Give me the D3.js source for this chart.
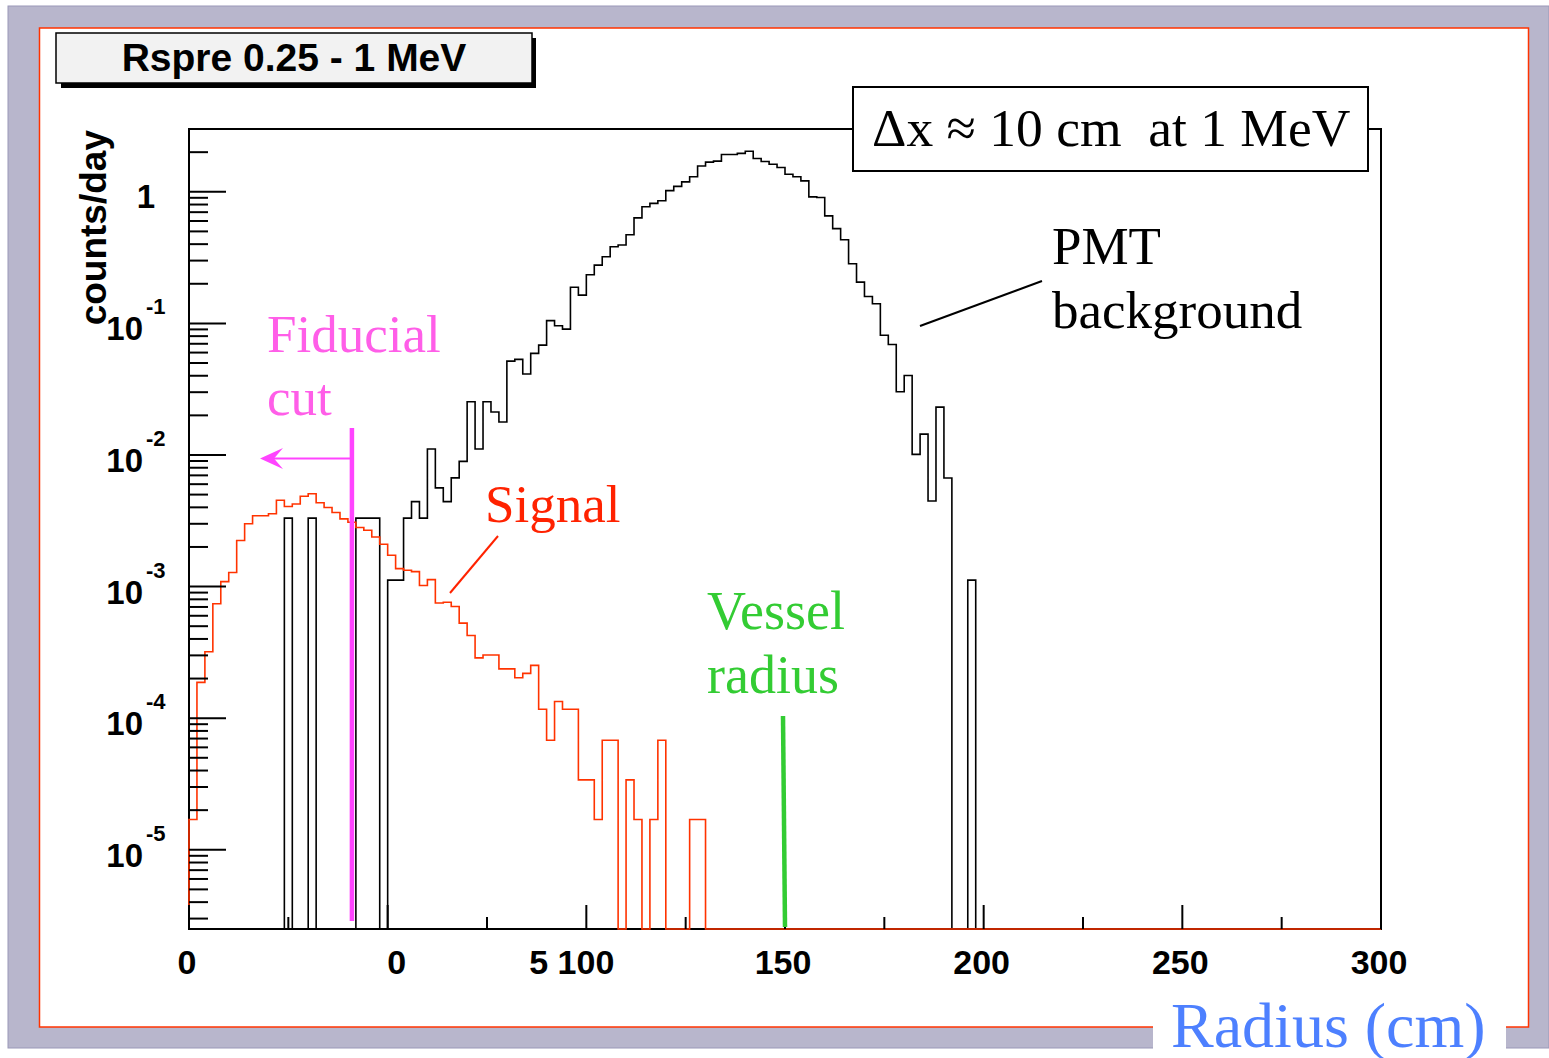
<!DOCTYPE html>
<html lang="en">
<head>
<meta charset="UTF-8">
<title>Rspre 0.25 - 1 MeV</title>
<script src="https://d3js.org/d3.v7.min.js"></script>
<style>
  body { margin: 0; background: #fff; }
  svg { display: block; }
  .serif { font-family: "Liberation Serif", "Times New Roman", serif; }
  .sans { font-family: "Liberation Sans", Arial, Helvetica, sans-serif; font-weight: bold; }
</style>
</head>
<body>
<svg id="chart" width="1549" height="1058"></svg>
<script>
// 2 cm bins starting at 0 cm, values in counts/day (0 = empty bin)
const binWidth = 2;

const signalCounts = [
  1.7e-5, 1.87e-4, 3.2e-4, 7.4e-4, 1.09e-3, 1.28e-3, 2.24e-3, 3.0e-3, 3.45e-3, 3.45e-3,
  3.58e-3, 4.53e-3, 4.06e-3, 4.24e-3, 4.86e-3, 5.07e-3, 4.34e-3, 3.99e-3, 3.66e-3, 3.27e-3,
  3.08e-3, 2.81e-3, 2.68e-3, 2.38e-3, 2.10e-3, 1.73e-3, 1.37e-3, 1.33e-3, 1.30e-3, 1.02e-3,
  1.13e-3, 7.5e-4, 7.6e-4, 7.06e-4, 5.28e-4, 4.25e-4, 2.87e-4, 3.02e-4, 3.02e-4, 2.37e-4,
  2.37e-4, 2.03e-4, 2.19e-4, 2.52e-4, 1.17e-4, 6.8e-5, 1.34e-4, 1.17e-4, 1.17e-4, 3.4e-5,
  3.4e-5, 1.7e-5, 6.8e-5, 6.8e-5, 0, 3.4e-5, 1.7e-5, 0, 1.7e-5, 6.8e-5,
  0, 0, 0, 1.7e-5, 1.7e-5
];

const pmtCounts = [
  0, 0, 0, 0, 0, 0, 0, 0, 0, 0,
  0, 0, 3.31e-3, 0, 0, 3.31e-3, 0, 0, 0, 0,
  0, 3.31e-3, 3.31e-3, 3.31e-3, 0, 1.12e-3, 1.12e-3, 3.31e-3, 4.42e-3, 3.31e-3,
  1.11e-2, 5.62e-3, 4.42e-3, 6.70e-3, 8.94e-3, 2.54e-2, 1.11e-2, 2.54e-2, 2.12e-2, 1.78e-2,
  5.17e-2, 5.33e-2, 4.12e-2, 5.92e-2, 6.84e-2, 0.105, 0.0959, 0.0905, 0.188, 0.164,
  0.234, 0.277, 0.321, 0.382, 0.394, 0.471, 0.634, 0.769, 0.816, 0.855,
  1.02, 1.10, 1.19, 1.30, 1.57, 1.68, 1.71, 1.92, 1.92, 1.96,
  2.03, 1.79, 1.70, 1.62, 1.53, 1.36, 1.30, 1.21, 0.915, 0.904,
  0.656, 0.525, 0.432, 0.284, 0.206, 0.160, 0.141, 0.0813, 0.0692, 0.0302,
  0.0402, 0.0101, 0.0144, 0.00447, 0.0231, 0.00668, 0, 0, 1.12e-3
];

const xMinorTicks = [0, 25, 50, 75, 100, 125, 150, 175, 200, 225, 250, 275, 300];
const xLabelValues = [0, 50, 100, 150, 200, 250, 300];
const xLabelText = ["0", "0", "5 100", "150", "200", "250", "300"];
const yDecades = [-6, -5, -4, -3, -2, -1, 0];

const fiducialCut = 41;   // cm
const vesselRadius = 150; // cm

const svg = d3.select("#chart");
const W = 1549, H = 1058;
const plot = { left: 189, right: 1381, top: 129, bottom: 929 };

const x = d3.scaleLinear().domain([0, 300]).range([plot.left, plot.right]);
const y = d3.scaleLog().domain([2.5e-6, 3]).range([plot.bottom, plot.top]);

// canvas / pad
svg.append("rect").attr("width", W).attr("height", H).attr("fill", "#fff");
svg.append("rect").attr("x", 8).attr("y", 6).attr("width", W - 8).attr("height", 1042)
  .attr("fill", "#b8b6cc").attr("stroke", "#9a98b8").attr("stroke-width", 1);
svg.append("rect").attr("x", 39.5).attr("y", 28).attr("width", 1489).attr("height", 999)
  .attr("fill", "#fff").attr("stroke", "#ff3300").attr("stroke-width", 1.5);

// frame
svg.append("rect").attr("x", plot.left).attr("y", plot.top)
  .attr("width", plot.right - plot.left).attr("height", plot.bottom - plot.top)
  .attr("fill", "#fff").attr("stroke", "#000").attr("stroke-width", 2);

svg.append("clipPath").attr("id", "clip").append("rect")
  .attr("x", plot.left - 1).attr("y", plot.top).attr("width", plot.right - plot.left + 2)
  .attr("height", plot.bottom - plot.top + 1);

// histogram outline, empty bins drawn on the frame bottom
const histPoints = (vals) => {
  const pts = [[0, null]];
  vals.forEach((v, i) => {
    pts.push([i * binWidth, v]);
    pts.push([(i + 1) * binWidth, v]);
  });
  pts.push([vals.length * binWidth, null]);
  pts.push([300, null]);
  return pts;
};
const histLine = d3.line()
  .x(d => x(d[0]))
  .y(d => (d[1] > 0 ? y(d[1]) : plot.bottom));

const g = svg.append("g").attr("clip-path", "url(#clip)");
g.append("path").attr("d", histLine(histPoints(pmtCounts)))
  .attr("fill", "none").attr("stroke", "#000").attr("stroke-width", 1.6);
g.append("path").attr("d", histLine(histPoints(signalCounts)))
  .attr("fill", "none").attr("stroke", "#ff3300").attr("stroke-width", 1.6);

// y ticks
const yTicks = [];
yDecades.forEach(d => {
  for (let m = 1; m <= 9; m++) {
    const v = m * Math.pow(10, d);
    if (v >= y.domain()[0] && v <= y.domain()[1]) yTicks.push({ v, major: m === 1 });
  }
});
svg.append("g").selectAll("line").data(yTicks).join("line")
  .attr("x1", plot.left).attr("x2", d => plot.left + (d.major ? 37 : 19))
  .attr("y1", d => y(d.v)).attr("y2", d => y(d.v))
  .attr("stroke", "#000").attr("stroke-width", 2);

const yLab = svg.append("g").attr("class", "sans");
yDecades.filter(d => Math.pow(10, d) >= y.domain()[0]).forEach(d => {
  const yy = y(Math.pow(10, d));
  if (d === 0) {
    yLab.append("text").attr("x", 155).attr("y", yy + 16).attr("text-anchor", "end")
      .attr("font-size", 33).text("1");
  } else {
    yLab.append("text").attr("x", 143).attr("y", yy + 17).attr("text-anchor", "end")
      .attr("font-size", 33).text("10");
    yLab.append("text").attr("x", 146).attr("y", yy - 9)
      .attr("font-size", 22).text(String(d));
  }
});

// x ticks
svg.append("g").selectAll("line").data(xMinorTicks).join("line")
  .attr("x1", d => x(d)).attr("x2", d => x(d))
  .attr("y1", plot.bottom).attr("y2", d => plot.bottom - (d % 50 === 0 ? 24 : 12))
  .attr("stroke", "#000").attr("stroke-width", 2);

svg.append("g").attr("class", "sans").selectAll("text").data(xLabelValues).join("text")
  .attr("x", (d, i) => x(d) + (i === 1 ? 9 : i === 2 ? 28 : -2))
  .attr("y", 974)
  .attr("text-anchor", (d, i) => (i === 2 ? "end" : "middle"))
  .attr("font-size", 34)
  .style("white-space", "pre")
  .text((d, i) => xLabelText[i]);

// y title
svg.append("text").attr("class", "sans")
  .attr("transform", "translate(106,130) rotate(-90)")
  .attr("text-anchor", "end").attr("font-size", 37).text("counts/day");

// fiducial cut
const pink = "#ff44ff";
svg.append("line").attr("x1", x(fiducialCut)).attr("x2", x(fiducialCut))
  .attr("y1", 428).attr("y2", 921).attr("stroke", pink).attr("stroke-width", 4.5);
svg.append("line").attr("x1", x(fiducialCut)).attr("x2", 272)
  .attr("y1", 458.5).attr("y2", 458.5).attr("stroke", pink).attr("stroke-width", 2);
svg.append("path")
  .attr("d", "M260,458.5 L283,448 L274,458.5 L283,469 Z")
  .attr("fill", pink);
svg.append("text").attr("class", "serif").attr("x", 267).attr("y", 352)
  .attr("font-size", 53).attr("fill", "#ff5ee8").text("Fiducial");
svg.append("text").attr("class", "serif").attr("x", 267).attr("y", 415)
  .attr("font-size", 53).attr("fill", "#ff5ee8").text("cut");

// signal label
svg.append("text").attr("class", "serif").attr("x", 485).attr("y", 522)
  .attr("font-size", 53).attr("fill", "#ff2200").text("Signal");
svg.append("line").attr("x1", 498).attr("y1", 536).attr("x2", 450).attr("y2", 593)
  .attr("stroke", "#ff2200").attr("stroke-width", 2);

// vessel radius
svg.append("line").attr("x1", x(vesselRadius) - 2).attr("x2", x(vesselRadius))
  .attr("y1", 716).attr("y2", 927).attr("stroke", "#33cc33").attr("stroke-width", 4.5);
svg.append("text").attr("class", "serif").attr("x", 707).attr("y", 629)
  .attr("font-size", 54).attr("fill", "#33cc33").text("Vessel");
svg.append("text").attr("class", "serif").attr("x", 707).attr("y", 693)
  .attr("font-size", 54).attr("fill", "#33cc33").text("radius");

// PMT label
svg.append("text").attr("class", "serif").attr("x", 1052).attr("y", 264)
  .attr("font-size", 53).attr("fill", "#000").text("PMT");
svg.append("text").attr("class", "serif").attr("x", 1052).attr("y", 328)
  .attr("font-size", 53).attr("fill", "#000").text("background");
svg.append("line").attr("x1", 1042).attr("y1", 281).attr("x2", 920).attr("y2", 326)
  .attr("stroke", "#000").attr("stroke-width", 2);

// resolution box
svg.append("rect").attr("x", 853).attr("y", 87).attr("width", 515).attr("height", 84)
  .attr("fill", "#fff").attr("stroke", "#000").attr("stroke-width", 2);
svg.append("text").attr("class", "serif").attr("x", 872).attr("y", 146)
  .attr("font-size", 53.5).style("white-space", "pre")
  .text("\u0394x \u2248 10 cm  at 1 MeV");

// title box
svg.append("rect").attr("x", 61).attr("y", 38).attr("width", 475).attr("height", 50).attr("fill", "#000");
svg.append("rect").attr("x", 56).attr("y", 33).attr("width", 476).attr("height", 50)
  .attr("fill", "#f2f2f2").attr("stroke", "#000").attr("stroke-width", 1.5);
svg.append("text").attr("class", "sans").attr("x", 294).attr("y", 71)
  .attr("text-anchor", "middle").attr("font-size", 39).text("Rspre 0.25 - 1 MeV");

// x title (sits over the pad border, partly below the canvas edge as in the original)
svg.append("rect").attr("x", 1153).attr("y", 1008).attr("width", 353).attr("height", 50).attr("fill", "#fff");
svg.append("text").attr("class", "serif").attr("x", 1171).attr("y", 1047)
  .attr("font-size", 64).attr("fill", "#4d80ff").text("Radius (cm)");
</script>
</body>
</html>
